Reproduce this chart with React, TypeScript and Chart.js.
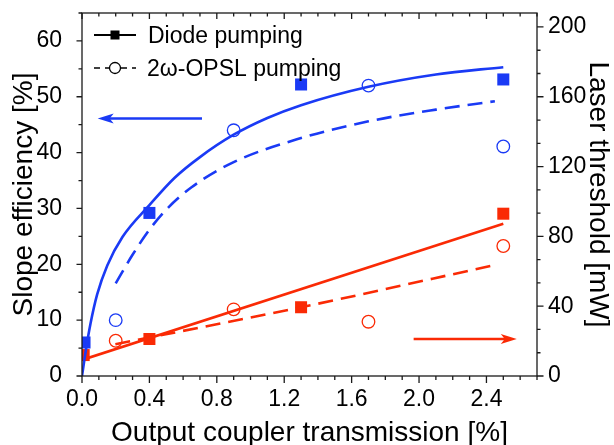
import { useEffect, useRef } from 'react';
import { Chart, registerables } from 'chart.js';
Chart.register(...registerables);

// ---- data ----
const xTicks = [0, 0.4, 0.8, 1.2, 1.6, 2.0, 2.4];
const leftTicks = [0, 10, 20, 30, 40, 50, 60];
const rightTicks = [0, 40, 80, 120, 160, 200];

const diodeEffX = [0.015, 0.4, 1.3, 2.5];
const diodeEffY = [6.0, 29.2, 52.2, 53.1];
const opslEffX = [0.2, 0.9, 1.7, 2.5];
const opslEffY = [10.0, 44.0, 52.0, 41.1];

const diodeThrX = [0.01, 0.4, 1.3, 2.5];
const diodeThrY = [12.0, 21.2, 39.4, 93.0];
const opslThrX = [0.2, 0.9, 1.7, 2.5];
const opslThrY = [20.2, 38.2, 31.1, 74.5];

const diodeEffFitX = [0, 0.025, 0.05, 0.09, 0.15, 0.24, 0.4, 0.55, 0.7, 0.9, 1.1, 1.3, 1.7, 2.1, 2.5];
const diodeEffFitY = [0, 5.0, 9.3, 14.6, 19.8, 24.9, 30.6, 35.5, 39.2, 43.2, 46.2, 48.5, 51.8, 54.0, 55.3];
const opslEffFitX = [0.2, 0.3, 0.4, 0.5, 0.65, 0.9, 1.3, 1.7, 2.1, 2.45];
const opslEffFitY = [16.6, 21.7, 26.2, 29.8, 33.8, 38.3, 42.6, 45.6, 47.7, 49.2];
const diodeThrFitX = [0, 2.5];
const diodeThrFitY = [9.2, 87.2];
const opslThrFitX = [0.198, 1.3, 2.45];
const opslThrFitY = [18.2, 39.4, 63.6];

const legendLabels = ['Diode pumping', '2\u03C9-OPSL pumping'];
const xTitle = 'Output coupler transmission [%]';
const yTitle = 'Slope efficiency [%]';
const y1Title = 'Laser threshold [mW]';

// arrows: [x from, x to, y value]
const blueArrow = [0.712, 0.093, 46.1];
const redArrow = [1.968, 2.58, 21.2];

const BLUE = '#1a3af5';
const RED = '#fa2a05';
const FONT = "'Liberation Sans', Arial, sans-serif";

const pts = (xs: number[], ys: number[]) => xs.map((x, i) => ({ x, y: ys[i] }));

const decorPlugin = {
  id: 'decor',
  afterDatasetsDraw(chart: any) {
    const ctx = chart.ctx;
    const { left, right, top, bottom } = chart.chartArea;
    const xs = chart.scales.x, ys = chart.scales.y, y1s = chart.scales.y1;
    ctx.save();
    // arrows
    const arrow = (a: number[], scale: any, color: string) => {
      const x0 = xs.getPixelForValue(a[0]);
      const x1 = xs.getPixelForValue(a[1]);
      const yy = scale.getPixelForValue(a[2]);
      const dir = Math.sign(x1 - x0);
      const hl = 16, hw = 5;
      ctx.strokeStyle = color;
      ctx.fillStyle = color;
      ctx.lineWidth = 2.6;
      ctx.beginPath();
      ctx.moveTo(x0, yy);
      ctx.lineTo(x1 - dir * hl * 0.6, yy);
      ctx.stroke();
      ctx.beginPath();
      ctx.moveTo(x1, yy);
      ctx.lineTo(x1 - dir * hl, yy - hw);
      ctx.lineTo(x1 - dir * hl * 0.75, yy);
      ctx.lineTo(x1 - dir * hl, yy + hw);
      ctx.closePath();
      ctx.fill();
    };
    arrow(blueArrow, ys, BLUE);
    arrow(redArrow, y1s, RED);

    // frame
    ctx.strokeStyle = '#1a1a1a';
    ctx.lineWidth = 1.3;
    ctx.strokeRect(left, top, right - left, bottom - top);
    ctx.beginPath();
    // x ticks (0.1 minor, 0.4 major)
    for (let i = 0; i <= 27; i++) {
      const px = xs.getPixelForValue(i / 10);
      const major = i % 4 === 0;
      ctx.moveTo(px, bottom);
      ctx.lineTo(px, bottom + (major ? 7 : 4));
      ctx.moveTo(px, top);
      ctx.lineTo(px, top + (major ? 6 : 3.5));
    }
    // left ticks
    for (let i = 0; i <= 13; i++) {
      const py = ys.getPixelForValue(i * 5);
      const major = i % 2 === 0;
      ctx.moveTo(left, py);
      ctx.lineTo(left - (major ? 5.5 : 3.5), py);
    }
    // right ticks
    for (let i = 0; i <= 15; i++) {
      const v = (i * 40) / 3;
      if (v > 208) break;
      const py = y1s.getPixelForValue(v);
      const major = i % 3 === 0;
      ctx.moveTo(right, py);
      ctx.lineTo(right + (major ? 6.5 : 3.5), py);
    }
    ctx.stroke();

    // axis titles
    ctx.fillStyle = '#000';
    ctx.font = `28px ${FONT}`;
    ctx.textBaseline = 'alphabetic';
    ctx.textAlign = 'center';
    ctx.fillText(xTitle, (left + right) / 2, 441);
    const cy = (top + bottom) / 2;
    ctx.save();
    ctx.translate(31.5, cy);
    ctx.rotate(-Math.PI / 2);
    ctx.fillText(yTitle, 0, 0);
    ctx.restore();
    ctx.save();
    ctx.translate(590, cy);
    ctx.rotate(Math.PI / 2);
    ctx.fillText(y1Title, 0, 0);
    ctx.restore();

    // legend
    ctx.font = `23px ${FONT}`;
    ctx.textAlign = 'left';
    const lx0 = left + 12, lx1 = left + 54, lxm = left + 33;
    const r1 = top + 22, r2 = top + 55;
    ctx.strokeStyle = '#000';
    ctx.lineWidth = 2;
    ctx.beginPath();
    ctx.moveTo(lx0, r1);
    ctx.lineTo(lx1, r1);
    ctx.stroke();
    ctx.fillStyle = '#000';
    ctx.fillRect(lxm - 4.5, r1 - 4.5, 9, 9);
    ctx.lineWidth = 1.3;
    ctx.setLineDash([6, 5]);
    ctx.beginPath();
    ctx.moveTo(lx0, r2);
    ctx.lineTo(lxm - 6, r2);
    ctx.moveTo(lxm + 6, r2);
    ctx.lineTo(lx1, r2);
    ctx.stroke();
    ctx.setLineDash([]);
    ctx.beginPath();
    ctx.arc(lxm, r2, 5.5, 0, Math.PI * 2);
    ctx.stroke();
    ctx.fillText(legendLabels[0], left + 66, r1 + 8);
    ctx.fillText(legendLabels[1], left + 65, r2 + 8);
    ctx.restore();
  },
};

export default function App() {
  const ref = useRef<HTMLCanvasElement>(null);
  useEffect(() => {
    if (!ref.current) return;
    const tickFont = { family: FONT, size: 23 };
    const noPadV = (s: any, w: number) => { s.width = w; s.paddingTop = 0; s.paddingBottom = 0; };
    const chart = new Chart(ref.current, {
      type: 'scatter',
      data: {
        datasets: [
          { data: pts(diodeEffFitX, diodeEffFitY), yAxisID: 'y', showLine: true, borderColor: BLUE, borderWidth: 2.6, pointRadius: 0, cubicInterpolationMode: 'monotone', order: 1 } as any,
          { data: pts(opslEffFitX, opslEffFitY), yAxisID: 'y', showLine: true, borderColor: BLUE, borderWidth: 2.6, borderDash: [15, 8], pointRadius: 0, cubicInterpolationMode: 'monotone', order: 1 } as any,
          { data: pts(diodeThrFitX, diodeThrFitY), yAxisID: 'y1', showLine: true, borderColor: RED, borderWidth: 2.6, pointRadius: 0, order: 1 } as any,
          { data: pts(opslThrFitX, opslThrFitY), yAxisID: 'y1', showLine: true, borderColor: RED, borderWidth: 2.6, borderDash: [15, 8], pointRadius: 0, cubicInterpolationMode: 'monotone', order: 1 } as any,
          { data: pts(diodeEffX, diodeEffY), yAxisID: 'y', pointStyle: 'rect', pointRadius: 8.5, backgroundColor: BLUE, borderColor: BLUE, borderWidth: 0, order: 2 } as any,
          { data: pts(opslEffX, opslEffY), yAxisID: 'y', pointStyle: 'circle', pointRadius: 6.3, backgroundColor: 'rgba(0,0,0,0)', borderColor: BLUE, borderWidth: 1.3, order: 2 } as any,
          { data: pts(diodeThrX, diodeThrY), yAxisID: 'y1', pointStyle: 'rect', pointRadius: 8.5, backgroundColor: RED, borderColor: RED, borderWidth: 0, order: 2 } as any,
          { data: pts(opslThrX, opslThrY), yAxisID: 'y1', pointStyle: 'circle', pointRadius: 6.3, backgroundColor: 'rgba(0,0,0,0)', borderColor: RED, borderWidth: 1.3, order: 2 } as any,
        ],
      },
      options: {
        animation: false,
        responsive: false,
        devicePixelRatio: 1,
        layout: { padding: { top: 13, left: 0, right: 0, bottom: 0 } },
        plugins: { legend: { display: false }, tooltip: { enabled: false } },
        scales: {
          x: {
            type: 'linear', min: 0, max: 2.7,
            grid: { display: false, drawTicks: false }, border: { display: false },
            afterBuildTicks: (s: any) => { s.ticks = xTicks.map((value) => ({ value })); },
            afterFit: (s: any) => { s.height = 69; s.paddingLeft = 0; s.paddingRight = 0; },
            ticks: { font: tickFont, color: '#000', padding: 10, maxRotation: 0, autoSkip: false, callback: (v: any) => Number(v).toFixed(1) },
          },
          y: {
            type: 'linear', position: 'left', min: 0, max: 65,
            grid: { display: false, drawTicks: false }, border: { display: false },
            afterBuildTicks: (s: any) => { s.ticks = leftTicks.map((value) => ({ value })); },
            afterFit: (s: any) => noPadV(s, 82),
            ticks: { font: tickFont, color: '#000', padding: 20, autoSkip: false },
          },
          y1: {
            type: 'linear', position: 'right', min: 0, max: 208,
            grid: { display: false, drawTicks: false }, border: { display: false },
            afterBuildTicks: (s: any) => { s.ticks = rightTicks.map((value) => ({ value })); },
            afterFit: (s: any) => noPadV(s, 77),
            ticks: { font: tickFont, color: '#000', padding: 11, autoSkip: false },
          },
        },
      } as any,
      plugins: [decorPlugin],
    });
    return () => chart.destroy();
  }, []);
  return (
    <div style={{ position: 'fixed', left: 0, top: 0, width: 614, height: 445, background: '#fff' }}>
      <canvas ref={ref} width={614} height={445} style={{ display: 'block', width: 614, height: 445 }} />
    </div>
  );
}
